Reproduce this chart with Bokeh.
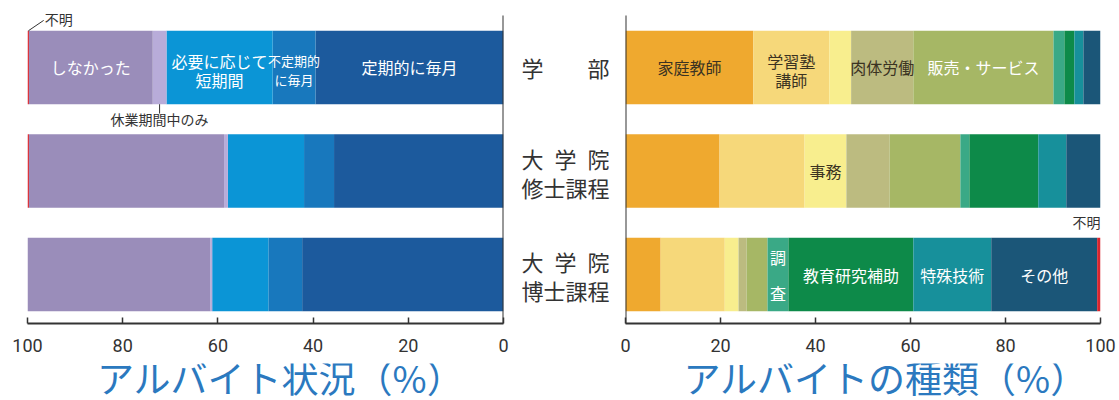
import numpy as np
from bokeh.plotting import figure
from bokeh.models import ColumnDataSource, Range1d, FixedTicker
from bokeh.layouts import row, column
from bokeh.embed import file_html
from bokeh.resources import INLINE
from bokeh.core.properties import value

# ---------------- data ----------------
row_keys = ["学部", "修士課程", "博士課程"]
row_labels = ["学\u3000\u3000部", "大\u2002学\u2002院\n修士課程", "大\u2002学\u2002院\n博士課程"]

# アルバイト状況 (%), stacked from 0 (right) toward 100 (left)
status_names = ["定期的に毎月", "不定期的に毎月", "必要に応じて短期間", "休業期間中のみ", "しなかった", "不明"]
teiki = [39.5, 35.6, 42.3]
futeiki = [9.0, 6.3, 7.1]
hitsuyou = [22.3, 16.0, 11.8]
kyugyo = [2.9, 0.8, 0.4]
shinakatta = [26.0, 41.0, 38.4]
fumei_status = [0.3, 0.3, 0.0]
status_values = [teiki, futeiki, hitsuyou, kyugyo, shinakatta, fumei_status]
status_colors = ["#1c5a9d", "#1878bd", "#0b95d6", "#b8acd9", "#9a8dba", "#d9252e"]

# アルバイトの種類 (%), stacked from 0 (left) toward 100 (right)
type_names = ["家庭教師", "学習塾講師", "事務", "肉体労働", "販売・サービス", "調査",
              "教育研究補助", "特殊技術", "その他", "不明"]
katei = [26.9, 19.8, 7.4]
juku = [16.0, 17.9, 13.5]
jimu = [4.6, 8.8, 2.9]
nikutai = [13.1, 9.1, 1.7]
hanbai = [29.5, 14.9, 4.4]
chousa = [2.3, 1.9, 4.4]
kyouiku = [2.1, 14.5, 26.3]
tokushu = [1.9, 5.9, 16.4]
sonota = [3.6, 7.2, 22.3]
fumei_type = [0.0, 0.0, 0.7]
type_values = [katei, juku, jimu, nikutai, hanbai, chousa, kyouiku, tokushu, sonota, fumei_type]
type_colors = ["#efa92f", "#f6d87a", "#f8ee8e", "#bcbb80", "#a6b765", "#3aa986",
               "#0d8a49", "#17909b", "#1b5678", "#d9252e"]

# in-bar labels: (series index, row index, text, colour)
status_bar_labels = [(4, 0, "しなかった", "white"), (2, 0, "必要に応じて\n短期間", "white"),
                     (1, 0, "不定期的\nに毎月", "white"), (0, 0, "定期的に毎月", "white")]
type_bar_labels = [(0, 0, "家庭教師", "#3b3322"), (1, 0, "学習塾\n講師", "#3b3322"),
                   (3, 0, "肉体労働", "#3b3322"), (4, 0, "販売・サービス", "white"),
                   (2, 1, "事務", "#3b3322"), (5, 2, "調\n査", "white"),
                   (6, 2, "教育研究補助", "white"), (7, 2, "特殊技術", "white"),
                   (8, 2, "その他", "white")]

ticks = [0, 20, 40, 60, 80, 100]
titles = ["アルバイト状況（%）", "アルバイトの種類（%）"]

# ---------------- style ----------------
JP = "Noto Sans CJK JP"
DARK = "#333333"
TITLE_BLUE = "#2b79bf"
BAR_H = 0.71
Y_BOTTOM, Y_TOP = 2.473, -0.647
AXIS_TOP = -0.502
H_TOP = 363
H_TITLE = 37
BOTTOM_BORDER = 40
PX_PER_UNIT = (H_TOP - BOTTOM_BORDER) / (Y_BOTTOM - Y_TOP)
LABEL_SIZES = {"不定期的\nに毎月": "13px"}

y_idx = np.arange(len(row_keys))


def stacked(values):
    arr = np.array(values, dtype=float)
    right = np.cumsum(arr, axis=0)
    left = right - arr
    return left, right


def base_fig(width, x_range, bl, br):
    p = figure(width=width, height=H_TOP, x_range=x_range,
               y_range=Range1d(Y_BOTTOM, Y_TOP),
               output_backend="svg", toolbar_location=None,
               min_border_left=bl, min_border_right=br,
               min_border_top=0, min_border_bottom=BOTTOM_BORDER)
    p.grid.visible = False
    p.outline_line_color = None
    p.yaxis.visible = False
    p.background_fill_color = "white"
    p.border_fill_color = "white"
    return p


def style_xaxis(p):
    ax = p.xaxis[0]
    ax.ticker = FixedTicker(ticks=ticks)
    ax.minor_tick_line_color = None
    ax.major_tick_in = 6
    ax.major_tick_out = 0
    ax.major_tick_line_color = DARK
    ax.major_tick_line_width = 1.5
    ax.axis_line_color = DARK
    ax.axis_line_width = 2
    ax.major_label_text_font = "Roboto"
    ax.major_label_text_font_size = "18px"
    ax.major_label_text_color = DARK
    ax.major_label_standoff = 15


def multiline(p, x, y, text, color, size, gap_px, shift_px=0.0):
    lines = text.split("\n")
    n = len(lines)
    for i, line in enumerate(lines):
        yy = y + ((i - (n - 1) / 2) * gap_px + (shift_px if n > 1 else 0)) / PX_PER_UNIT
        p.text(x=[x], y=[yy], text=[line], text_color=color, text_font=value(JP),
               text_font_size=size, text_align="center", text_baseline="middle")


def draw_bars(p, values, colors):
    left, right = stacked(values)
    for i, col in enumerate(colors):
        src = ColumnDataSource(dict(y=y_idx, left=left[i], right=right[i]))
        p.hbar(y="y", left="left", right="right", height=BAR_H, source=src,
               fill_color=col, line_color=None)
    return left, right


def draw_labels(p, left, right, specs):
    for s, r, t, c in specs:
        x = (left[s][r] + right[s][r]) / 2
        size = LABEL_SIZES.get(t, "16px")
        if t == "調\n査":
            multiline(p, x, r, t, c, size, 36)
        else:
            multiline(p, x, r, t, c, size, 19, 3)


# ---------------- left chart ----------------
p1 = base_fig(515, Range1d(100, 0), 27, 12)
style_xaxis(p1)
l1, r1 = draw_bars(p1, status_values, status_colors)
draw_labels(p1, l1, r1, status_bar_labels)
p1.segment(x0=[0], y0=[Y_BOTTOM], x1=[0], y1=[AXIS_TOP], line_color=DARK, line_width=2)

# 不明 annotation (row 0, leftmost segment)
fx = r1[5][0]
p1.segment(x0=[fx - 0.2], y0=[-BAR_H / 2], x1=[fx - 3.4], y1=[-BAR_H / 2 - 0.1],
           line_color=DARK, line_width=1)
p1.text(x=[fx - 3.6], y=[-0.47], text=["不明"], text_color=DARK, text_font=value(JP),
        text_font_size="14px", text_align="left", text_baseline="middle")
# 休業期間中のみ annotation
kx = (l1[3][0] + r1[3][0]) / 2
p1.segment(x0=[kx], y0=[BAR_H / 2], x1=[kx], y1=[BAR_H / 2 + 0.09],
           line_color=DARK, line_width=1)
p1.text(x=[kx], y=[0.5], text=["休業期間中のみ"], text_color=DARK, text_font=value(JP),
        text_font_size="14px", text_align="center", text_baseline="middle")

# ---------------- middle labels ----------------
p2 = base_fig(100, Range1d(0, 1), 0, 0)
p2.xaxis.visible = False
for i, lab in enumerate(row_labels):
    multiline(p2, 0.5, y_idx[i], lab, DARK, "22px", 29, 1)

# ---------------- right chart ----------------
p3 = base_fig(504, Range1d(0, 100), 10, 19)
style_xaxis(p3)
l3, r3 = draw_bars(p3, type_values, type_colors)
draw_labels(p3, l3, r3, type_bar_labels)
p3.segment(x0=[0], y0=[Y_BOTTOM], x1=[0], y1=[AXIS_TOP], line_color=DARK, line_width=2)
p3.text(x=[r3[9][2]], y=[2 - BAR_H / 2 - 0.15], text=["不明"], text_color=DARK,
        text_font=value(JP), text_font_size="14px", text_align="right",
        text_baseline="middle")

# ---------------- titles (strip below the charts) ----------------
pt = figure(width=1119, height=H_TITLE, x_range=Range1d(0, 1119), y_range=Range1d(0, H_TITLE),
            output_backend="svg", toolbar_location=None,
            min_border_left=0, min_border_right=0, min_border_top=0, min_border_bottom=0)
pt.axis.visible = False
pt.grid.visible = False
pt.outline_line_color = None
pt.text(x=[280, 885], y=[24, 24], text=titles, text_color=TITLE_BLUE,
        text_font=value(JP), text_font_size="37px", text_align="center",
        text_baseline="middle")

layout = column(row(p1, p2, p3, spacing=0), pt, spacing=0)
open("out.html", "w").write(file_html(layout, INLINE))
